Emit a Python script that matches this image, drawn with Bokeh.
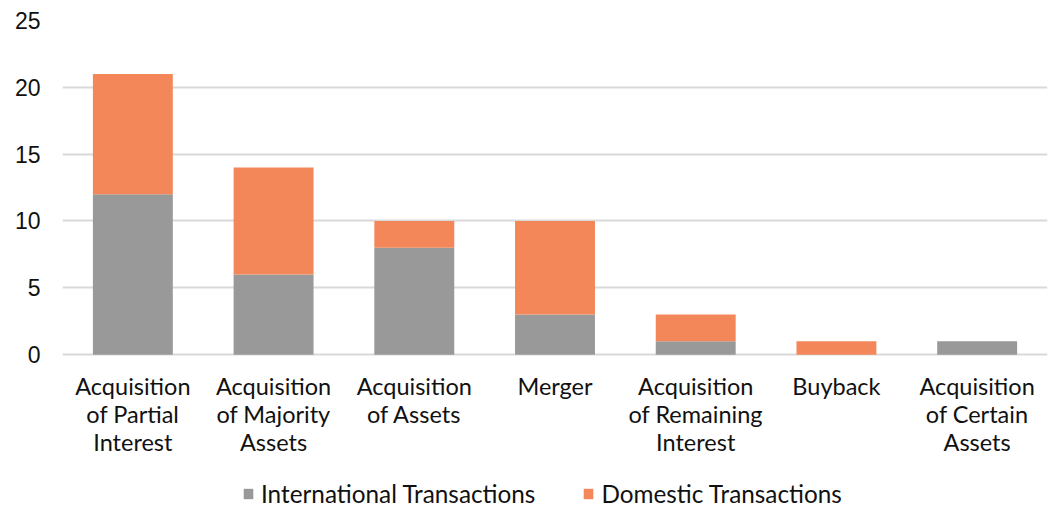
from bokeh.plotting import figure
from bokeh.models import ColumnDataSource, FactorRange, Range1d, Legend, LegendItem, FixedTicker
from bokeh.core.properties import value
from bokeh.embed import file_html
from bokeh.resources import INLINE

categories = ["Acquisition of Partial Interest", "Acquisition of Majority Assets",
              "Acquisition of Assets", "Merger", "Acquisition of Remaining Interest",
              "Buyback", "Acquisition of Certain Assets"]
category_labels = ["Acquisition\nof Partial\nInterest", "Acquisition\nof Majority\nAssets",
                   "Acquisition\nof Assets", "Merger", "Acquisition\nof Remaining\nInterest",
                   "Buyback", "Acquisition\nof Certain\nAssets"]
international = [12, 6, 8, 3, 1, 0, 1]
domestic = [9, 8, 2, 7, 2, 1, 0]
series_names = ["International Transactions", "Domestic Transactions"]
colors = ["#999999", "#F3875A"]
y_ticks = [0, 5, 10, 15, 20, 25]

src = ColumnDataSource(dict(cat=categories, intl=international, dom=domestic,
                            lab=category_labels, base=[0] * len(categories)))

p = figure(width=1049, height=508, x_range=FactorRange(*categories), y_range=Range1d(-11.51, 25),
           output_backend="svg", toolbar_location=None,
           min_border_left=62, min_border_right=2, min_border_top=20, min_border_bottom=0)

rs = p.vbar_stack(["intl", "dom"], x="cat", width=0.568, fill_color=colors,
                  line_color=None, source=src)

p.text(x="cat", y="base", text="lab", source=src, y_offset=17.5,
       text_align="center", text_baseline="top", text_font=value("Lato"),
       text_font_size="23.5px", text_color="#111111", text_line_height=0.99)

p.outline_line_color = None
p.background_fill_color = "white"
p.xgrid.grid_line_color = None
p.xaxis.visible = False
p.ygrid.grid_line_color = "#d9d9d9"
p.ygrid.grid_line_width = 2
p.ygrid.level = "underlay"

ya = p.yaxis[0]
ya.ticker = FixedTicker(ticks=y_ticks)
p.ygrid.ticker = FixedTicker(ticks=y_ticks)
ya.axis_line_color = None
ya.major_tick_line_color = None
ya.minor_tick_line_color = None
ya.major_label_text_font = "Liberation Sans"
ya.major_label_text_font_size = "23px"
ya.major_label_text_color = "#111111"
ya.major_label_standoff = 16

legend = Legend(items=[LegendItem(label=series_names[i], renderers=[rs[i]]) for i in range(2)],
                orientation="horizontal", location=(180, 0),
                label_text_font="Lato", label_text_font_size="24.3px", label_text_color="#111111",
                glyph_width=12, glyph_height=13, label_standoff=7, spacing=47,
                padding=0, margin=0, border_line_color=None, background_fill_alpha=0)
p.add_layout(legend, "center")

open("out.html", "w").write(file_html(p, INLINE))
